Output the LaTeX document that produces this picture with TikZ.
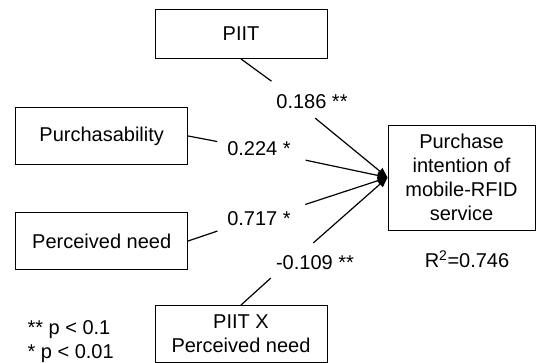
\documentclass[tikz,border=0pt]{standalone}
\usepackage{fontspec}
\setmainfont{Liberation Sans}
\usetikzlibrary{arrows.meta}

\begin{document}
\begin{tikzpicture}[
    x=1pt,y=-1pt,
    every node/.style={font=\fontsize{20}{24}\selectfont},
    construct/.style={draw,line width=0.9pt,minimum width=172pt,minimum height=57pt,align=center,inner sep=0pt},
    coef/.style={inner sep=3pt},
    link/.style={line width=1.2pt},
    arrow/.style={link,-{Triangle[length=10pt,width=8pt]}}
]
    \useasboundingbox (0,0) rectangle (536,363);
    \clip (0,0) rectangle (536,363);
    % Constructs
    \node[construct,minimum height=49pt] (piit) at (241,34) {PIIT};
    \node[construct] (purch) at (101.7,136) {Purchasability};
    \node[construct] (need) at (101.7,241) {Perceived need};
    \node[construct] (inter) at (241,334) {PIIT X\\Perceived need};
    \node[construct,minimum width=147pt,minimum height=105pt] (intent) at (461.5,177.5) {
        Purchase\\intention of\\mobile-RFID\\service
    };
    % Path coefficients
    \node[coef] (b186) at (312,101.5) {0.186 **};
    \node[coef] (b224) at (259,149) {0.224 *};
    \node[coef] (b717) at (259,218.5) {0.717 *};
    \node[coef] (b109) at (315,262.5) {-0.109 **};
    % Paths
    \draw[link,shorten >=17pt] (piit.south) -- (b186.159);
    \draw[arrow,shorten <=10pt] (b186.246) -- (intent.west);
    \draw[link,shorten >=7pt] (purch.east) -- (b224.170);
    \draw[arrow,shorten <=12pt] (b224.-14) -- (intent.west);
    \draw[link,shorten >=7pt] (need.east) -- (b717.south west);
    \draw[arrow,shorten <=12pt] (b717.north east) -- (intent.west);
    \draw[link,shorten >=8pt] (inter.north) -- (b109.195);
    \draw[arrow,shorten <=14pt] (b109.140) -- (intent.west);
    % Fit and notes
    \node (rsq) at (467,259) {R\textsuperscript{2}=0.746};
    \node[align=left,anchor=west] (note) at (24,341.5) {** p < 0.1\\* p < 0.01};
\end{tikzpicture}
\end{document}
